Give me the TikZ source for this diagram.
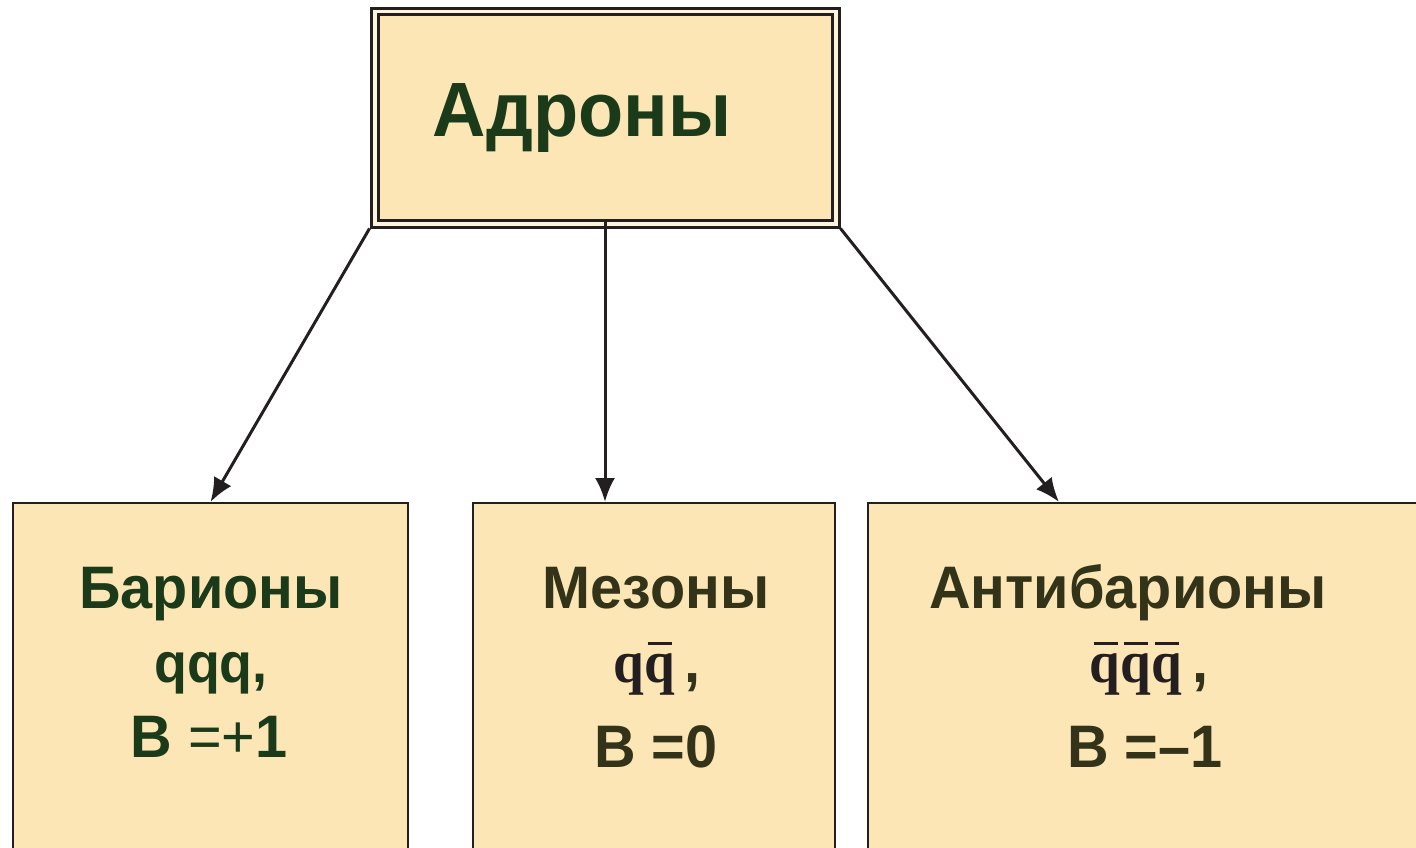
\documentclass[tikz,border=0pt]{standalone}
\usepackage{fontspec}
\setmainfont{Liberation Sans}[FakeStretch=0.96]
\newfontfamily\tms{Liberation Serif}[FakeStretch=0.92]
\usetikzlibrary{arrows.meta}
\definecolor{boxfill}{HTML}{FDE6B5}
\definecolor{gapfill}{HTML}{FEF4DC}
\definecolor{linec}{HTML}{231F20}
\definecolor{greentxt}{HTML}{1A3A1A}
\definecolor{olivetxt}{HTML}{33331A}
\newcommand\qbr{\leavevmode\makebox[0pt][l]{\hspace{0.06em}\raisebox{0.62em}{\rule{0.4em}{0.05em}}}q}
\begin{document}
\begin{tikzpicture}[x=1pt,y=-1pt,
  box/.style={draw=linec, line width=2pt, fill=boxfill, rectangle, inner sep=0pt},
  topbox/.style={draw=linec, line width=3pt, rectangle, inner sep=0pt},
  txt/.style={anchor=base, inner sep=0pt, font=\bfseries\fontsize{60}{60}\selectfont},
  conn/.style={draw=linec, line width=3pt, -{Latex[length=24pt,width=20pt]}}]
\useasboundingbox (0,0) rectangle (1416,848);
\clip (0,0) rectangle (1416,848);
% top box
\node[topbox, fill=gapfill, minimum width=468pt, minimum height=218pt] (adr) at (605,118) {};
\node[topbox, fill=boxfill, minimum width=454pt, minimum height=205pt] (adrin) at (605,117.5) {};
\node[txt, text=greentxt, font=\bfseries\fontsize{77}{77}\selectfont] (adrt) at (582,137) {Адроны};
% bottom boxes
\node[box, minimum width=395pt, minimum height=400pt] (bar) at (210.5,703) {};
\node[box, minimum width=362pt, minimum height=400pt] (mes) at (654,703) {};
\node[box, minimum width=570pt, minimum height=400pt] (anti) at (1153,703) {};
\coordinate (antiin) at ([xshift=192pt]anti.north west);
% connectors
\draw[conn] (adr.south west) -- (bar.north);
\draw[conn] (adrin.south) -- (adrin.south |- mes.north);
\draw[conn] (adr.south east) -- (antiin);
% texts left
\node[txt, text=greentxt] (bar1) at (211,608) {Барионы};
\node[txt, text=greentxt, font=\bfseries\fontsize{56}{56}\selectfont] (bar2) at (211,682) {qqq,};
\node[txt, text=greentxt] (bar3) at (209,757) {B {\mdseries=+}1};
% texts middle
\node[txt, text=olivetxt] (mes1) at (656,608) {Мезоны};
\node[txt, text=olivetxt] (mes2) at (657,682) {{\tms\color{linec}q\qbr}\,,};
\node[txt, text=olivetxt] (mes3) at (656,767) {B =0};
% texts right
\node[txt, text=olivetxt] (anti1) at (1128,608) {Антибарионы};
\node[txt, text=olivetxt] (anti2) at (1149,682) {{\tms\color{linec}\qbr\qbr\qbr}\,,};
\node[txt, text=olivetxt] (anti3) at (1145,767) {B =–1};
\end{tikzpicture}
\end{document}
